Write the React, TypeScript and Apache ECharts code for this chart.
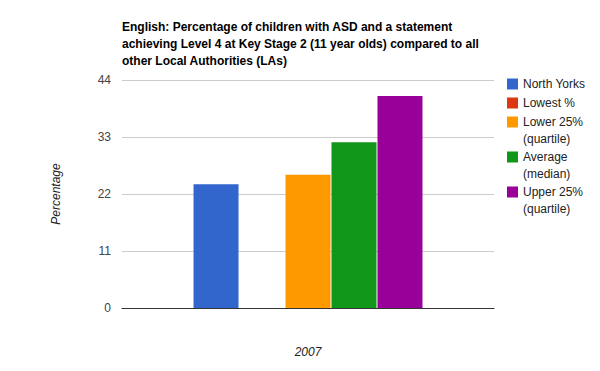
import React, { useEffect, useRef } from "react";
import * as echarts from "echarts";

const categories = ["2007"];
const seriesNames = ["North Yorks", "Lowest %", "Lower 25%", "Average", "Upper 25%"];
const seriesSubNames = ["", "", "(quartile)", "(median)", "(quartile)"];
const seriesValues = [23.9, 0, 25.7, 32.0, 40.9];
const seriesColors = ["#3366cc", "#dc3912", "#ff9900", "#109618", "#990099"];
const yTicks = [0, 11, 22, 33, 44];
const titleText =
  "English: Percentage of children with ASD and a statement\nachieving Level 4 at Key Stage 2 (11 year olds) compared to all\nother Local Authorities (LAs)";

const FONT = "Arial, 'Liberation Sans', sans-serif";

export default function App() {
  const ref = useRef<HTMLDivElement>(null);
  useEffect(() => {
    if (!ref.current) return;
    const chart = echarts.init(ref.current, undefined, { renderer: "svg" });
    const legendTops = [78, 97, 116, 151, 186];
    const legends = seriesNames.map((n, i) => ({
      orient: "vertical",
      left: 507,
      top: legendTops[i],
      padding: 0,
      itemWidth: 11,
      itemHeight: 11,
      itemGap: 0,
      icon: "rect",
      data: [n],
      textStyle: { color: "#222", fontSize: 12, fontFamily: FONT },
      selectedMode: false,
    }));
    const subTexts: any[] = [];
    seriesSubNames.forEach((s, i) => {
      if (s) {
        subTexts.push({
          type: "text",
          left: 523,
          top: legendTops[i] + 16 + 1,
          style: { text: s, fill: "#222", font: `12px ${FONT}` },
        });
      }
    });
    chart.setOption({
      animation: false,
      backgroundColor: "#fff",
      title: {
        text: titleText,
        left: 122,
        top: 18,
        padding: 0,
        textStyle: {
          fontSize: 12,
          fontWeight: "bold",
          color: "#000",
          fontFamily: FONT,
          lineHeight: 17,
        },
      },
      legend: legends,
      graphic: subTexts,
      grid: { left: 122, right: 106, top: 80, bottom: 63 },
      xAxis: {
        type: "category",
        data: categories,
        name: categories[0],
        nameLocation: "middle",
        nameGap: 38,
        nameTextStyle: { fontStyle: "italic", color: "#222", fontSize: 12, fontFamily: FONT },
        axisLine: { lineStyle: { color: "#333", width: 1 } },
        axisTick: { show: false },
        axisLabel: { show: false },
      },
      yAxis: {
        type: "value",
        min: yTicks[0],
        max: yTicks[yTicks.length - 1],
        interval: 11,
        name: "Percentage",
        nameLocation: "middle",
        nameGap: 60,
        nameTextStyle: { fontStyle: "italic", color: "#222", fontSize: 12, fontFamily: FONT },
        axisLine: { show: false },
        axisTick: { show: false },
        axisLabel: { color: "#444", fontSize: 12, fontFamily: FONT, margin: 11 },
        splitLine: { lineStyle: { color: "#ccc" } },
      },
      series: seriesNames.map((n, i) => ({
        type: "bar",
        name: n,
        data: [seriesValues[i]],
        barWidth: 45,
        barGap: "2.2%",
        itemStyle: { color: seriesColors[i] },
      })),
    });
    return () => chart.dispose();
  }, []);
  return (
    <div
      ref={ref}
      style={{ position: "absolute", left: 0, top: 0, width: 600, height: 371 }}
    />
  );
}
